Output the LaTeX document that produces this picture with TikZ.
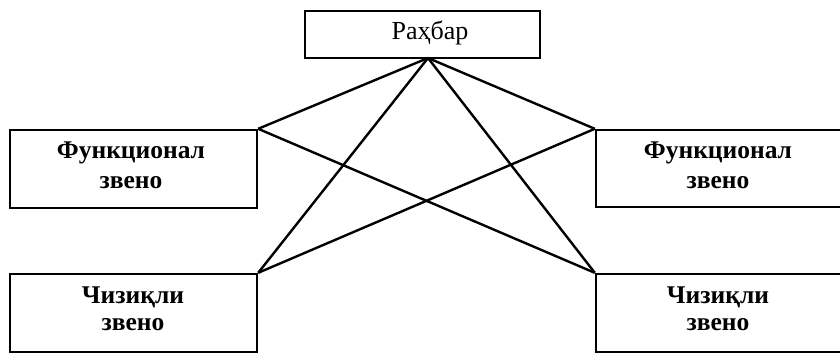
\documentclass[tikz,border=0pt]{standalone}
\usepackage{fontspec}
\setmainfont{Liberation Serif}
\begin{document}
\begin{tikzpicture}[x=1pt,y=-1pt,
  box/.style={draw,line width=2.4pt,rectangle,inner sep=0pt},
  lnk/.style={line width=2.4pt},
  lbl/.style={font=\fontsize{25.5}{30}\selectfont\bfseries,inner sep=0pt,align=center},
  toplbl/.style={font=\fontsize{26}{30}\selectfont,inner sep=0pt}]
\useasboundingbox (0,0) rectangle (840,354);
\node[box,minimum width=235pt,minimum height=47pt] (top) at (422.5,34.5) {};
\node[box,minimum width=247pt,minimum height=78pt] (fl) at (133.5,169) {};
\node[box,minimum width=250pt,minimum height=77pt] (fr) at (721,168.5) {};
\node[box,minimum width=247pt,minimum height=78pt] (cl) at (133.5,313) {};
\node[box,minimum width=250pt,minimum height=78pt] (cr) at (721,313) {};
\node[toplbl] (ttop) at (430,32.5) {Раҳбар};
\node[lbl] (tfl1) at (131,153) {Функционал};
\node[lbl] (tfl2) at (131,182.5) {звено};
\node[lbl] (tfr1) at (718,153) {Функционал};
\node[lbl] (tfr2) at (718,182.5) {звено};
\node[lbl] (tcl1) at (133,297) {Чизиқли};
\node[lbl] (tcl2) at (133,325) {звено};
\node[lbl] (tcr1) at (718,297) {Чизиқли};
\node[lbl] (tcr2) at (718,325) {звено};
\coordinate (apex) at (428,58);
\draw[lnk] (apex) -- (fl.north east);
\draw[lnk] (apex) -- (fr.north west);
\draw[lnk] (apex) -- (cl.north east);
\draw[lnk] (apex) -- (cr.north west);
\draw[lnk] (fl.north east) -- (cr.north west);
\draw[lnk] (fr.north west) -- (cl.north east);
\end{tikzpicture}
\end{document}
